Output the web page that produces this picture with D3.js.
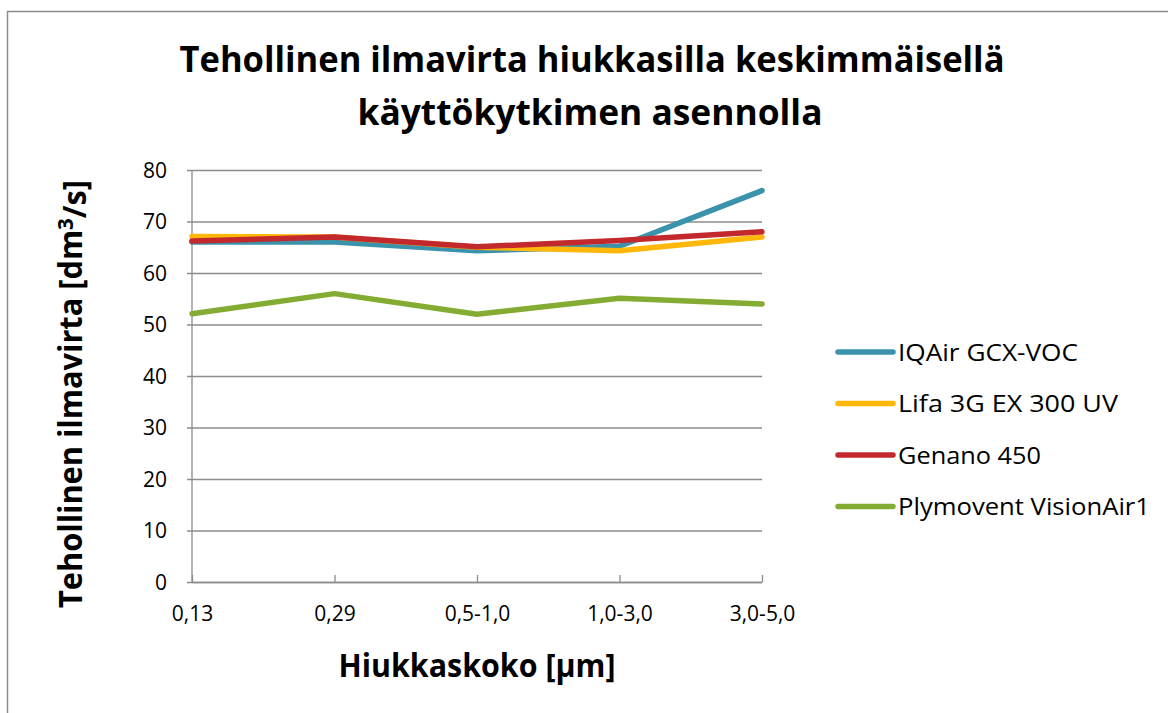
<!DOCTYPE html>
<html>
<head>
<meta charset="utf-8">
<script src="https://cdn.jsdelivr.net/npm/d3@7"></script>
<style>
  body { margin: 0; background: #fff; }
  text { font-family: "Open Sans", "Noto Sans", sans-serif; fill: #000; }
</style>
</head>
<body>
<script>
var categories = ["0,13", "0,29", "0,5-1,0", "1,0-3,0", "3,0-5,0"];
var seriesNames = ["IQAir GCX-VOC", "Lifa 3G EX 300 UV", "Genano 450", "Plymovent VisionAir1"];
var iqair = [66, 66, 64.3, 65.2, 76];
var lifa = [67.1, 67, 65, 64.3, 67];
var genano = [66.2, 67, 65.1, 66.3, 68];
var plymovent = [52.1, 56, 52, 55.1, 54];
var yTicks = [0, 10, 20, 30, 40, 50, 60, 70, 80];
var colors = ["#3a92ab", "#ffb70a", "#c3282c", "#85ac32"];

var allSeries = [iqair, lifa, genano, plymovent];

var width = 1168, height = 713;
var margin = {top: 170, right: 406, bottom: 131, left: 192};

var svg = d3.select("body").append("svg")
  .attr("width", width)
  .attr("height", height);

// outer frame (runs off the right and bottom)
svg.append("rect")
  .attr("x", 7.5).attr("y", 11.5)
  .attr("width", 1300).attr("height", 900)
  .attr("fill", "none").attr("stroke", "#8c8c8c").attr("stroke-width", 1.5);

var x = d3.scalePoint().domain(categories).range([margin.left, width - margin.right]).padding(0);
var y = d3.scaleLinear().domain([0, 80]).range([height - margin.bottom, margin.top]);

// gridlines + y ticks
var yAxis = svg.append("g")
  .attr("transform", "translate(" + margin.left + ",0)")
  .call(d3.axisLeft(y).tickValues(yTicks).tickSize(-(width - margin.right - margin.left)).tickSizeOuter(0).tickPadding(10));
yAxis.select(".domain").remove();
yAxis.selectAll(".tick line").attr("stroke", "#8c8c8c").attr("stroke-width", 1.3)
  .attr("x1", -5).attr("x2", width - margin.right - margin.left);
yAxis.selectAll(".tick text").style("font-size", "21px").attr("dy", "0.34em").attr("x", -25);

// y axis line
svg.append("line")
  .attr("x1", margin.left).attr("x2", margin.left)
  .attr("y1", margin.top).attr("y2", height - margin.bottom)
  .attr("stroke", "#8c8c8c").attr("stroke-width", 1.3);

// x axis
var xAxis = svg.append("g")
  .attr("transform", "translate(0," + (height - margin.bottom) + ")")
  .call(d3.axisBottom(x).tickSize(-7).tickSizeOuter(0).tickPadding(20));
xAxis.select(".domain").attr("stroke", "#8c8c8c").attr("stroke-width", 1.3);
xAxis.selectAll(".tick line").attr("stroke", "#8c8c8c").attr("stroke-width", 1.3);
xAxis.selectAll(".tick text").style("font-size", "21px").attr("y", 24).attr("dy", "0.71em");

// lines
var line = d3.line()
  .x(function(d, i) { return x(categories[i]); })
  .y(function(d) { return y(d); });

svg.selectAll(".series")
  .data(allSeries)
  .enter().append("path")
  .attr("class", "series")
  .attr("d", line)
  .attr("fill", "none")
  .attr("stroke", function(d, i) { return colors[i]; })
  .attr("stroke-width", 5.5)
  .attr("stroke-linejoin", "round")
  .attr("stroke-linecap", "round");

// legend
var legend = svg.selectAll(".legend")
  .data(seriesNames)
  .enter().append("g")
  .attr("class", "legend")
  .attr("transform", function(d, i) { return "translate(838," + (352 + i * 51.5) + ")"; });
legend.append("line")
  .attr("x1", 0).attr("x2", 55)
  .attr("stroke", function(d, i) { return colors[i]; })
  .attr("stroke-width", 5.5).attr("stroke-linecap", "round");
var legendWidths = [180, 220, 143, 252];
legend.append("text")
  .attr("x", 60).attr("dy", "0.36em")
  .style("font-size", "24px")
  .attr("textLength", function(d, i) { return legendWidths[i]; })
  .attr("lengthAdjust", "spacingAndGlyphs")
  .text(function(d) { return d; });

// title
svg.append("text")
  .attr("x", 592).attr("y", 72).attr("text-anchor", "middle")
  .style("font-size", "36px").style("font-weight", "bold")
  .attr("textLength", 825).attr("lengthAdjust", "spacingAndGlyphs")
  .text("Tehollinen ilmavirta hiukkasilla keskimmäisellä");
svg.append("text")
  .attr("x", 590).attr("y", 125).attr("text-anchor", "middle")
  .style("font-size", "36px").style("font-weight", "bold")
  .attr("textLength", 465).attr("lengthAdjust", "spacingAndGlyphs")
  .text("käyttökytkimen asennolla");

// x axis title
svg.append("text")
  .attr("x", 477).attr("y", 677).attr("text-anchor", "middle")
  .style("font-size", "33px").style("font-weight", "bold")
  .attr("textLength", 277).attr("lengthAdjust", "spacingAndGlyphs")
  .text("Hiukkaskoko [µm]");

// y axis title
var yt = svg.append("text")
  .attr("transform", "translate(82,394) rotate(-90)")
  .attr("text-anchor", "middle")
  .style("font-size", "33px").style("font-weight", "bold")
  .attr("textLength", 428).attr("lengthAdjust", "spacingAndGlyphs");
yt.append("tspan").text("Tehollinen ilmavirta [dm");
yt.append("tspan").attr("dy", "-0.4em").style("font-size", "22px").text("3");
yt.append("tspan").attr("dy", "0.4em").text("/s]");
</script>
</body>
</html>
